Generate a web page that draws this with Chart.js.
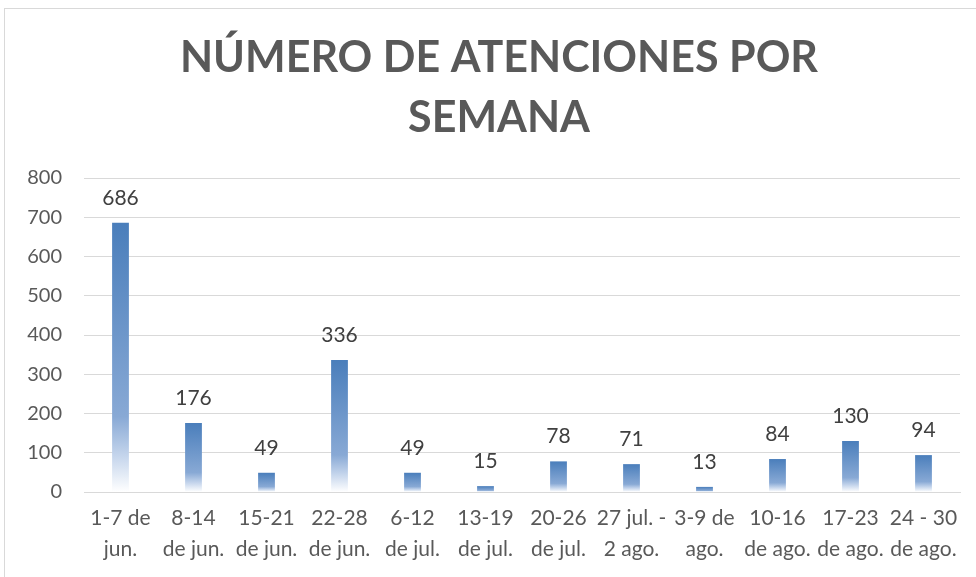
<!DOCTYPE html>
<html><head><meta charset="utf-8">
<script src="https://cdn.jsdelivr.net/npm/chart.js@4"></script>
<style>
html,body{margin:0;padding:0;background:#fff;}
#wrap{position:relative;width:976px;height:577px;}
#frame{position:absolute;left:4px;top:8px;right:0;bottom:0;border-left:1px solid #d9d9d9;border-top:1px solid #d9d9d9;pointer-events:none;}
</style></head>
<body><div id="wrap"><canvas id="c" width="976" height="577"></canvas><div id="frame"></div></div>
<script>
const categories = [["1-7 de","jun."],["8-14","de jun."],["15-21","de jun."],["22-28","de jun."],["6-12","de jul."],["13-19","de jul."],["20-26","de jul."],["27 jul. -","2 ago."],["3-9 de","ago."],["10-16","de ago."],["17-23","de ago."],["24 - 30","de ago."]];
const atenciones = [686,176,49,336,49,15,78,71,13,84,130,94];
const titleLines = ["NÚMERO DE ATENCIONES POR","SEMANA"];
const FONT = "Lato, 'Open Sans', sans-serif";

function barGradient(ctx){
  const chart = ctx.chart;
  const ys = chart.scales && chart.scales.y;
  if(!ys || ctx.type !== 'data') return '#4f81bd';
  const v = ctx.raw;
  const top = ys.getPixelForValue(v), base = ys.getPixelForValue(0);
  if (!isFinite(top) || !isFinite(base) || Math.abs(base-top) < 1) return '#4f81bd';
  const g = chart.ctx.createLinearGradient(0, top, 0, base);
  g.addColorStop(0, '#4a7ebb');
  g.addColorStop(0.72, '#88a9d5');
  g.addColorStop(0.86, '#c2d3eb');
  g.addColorStop(1, '#ffffff');
  return g;
}

const labelPlugin = {
  id:'valueLabels',
  afterDatasetsDraw(chart){
    const c = chart.ctx;
    const meta = chart.getDatasetMeta(0);
    c.save();
    c.font = "21px " + FONT;
    c.fillStyle = '#404040';
    c.textAlign = 'center';
    c.textBaseline = 'middle';
    meta.data.forEach((el,i)=>{
      c.fillText(String(atenciones[i]), el.x, el.y - 25);
    });
    c.restore();
  }
};

const titlePlugin = {
  id:'centeredTitle',
  afterDraw(chart){
    const c = chart.ctx;
    c.save();
    c.font = "bold 43px " + FONT;
    c.fillStyle = '#595959';
    c.textAlign = 'center';
    c.textBaseline = 'middle';
    titleLines.forEach((t,i)=> c.fillText(t, 499, 58 + i*60));
    c.restore();
  }
};

new Chart(document.getElementById('c'), {
  type:'bar',
  data:{ labels:categories, datasets:[{ data:atenciones, backgroundColor:barGradient, borderWidth:0, barPercentage:0.5, categoryPercentage:0.46 }]},
  options:{
    responsive:false, animation:false,
    layout:{padding:{left:6,right:16,top:178,bottom:2}},
    plugins:{ legend:{display:false}, tooltip:{enabled:false}, title:{display:false} },
    scales:{
      x:{ grid:{display:false, drawTicks:false}, border:{color:'#d9d9d9', width:1},
          ticks:{color:'#595959', font:{family:FONT, size:21, lineHeight:1.5}, maxRotation:0, autoSkip:false, padding:10}},
      y:{ min:0, max:800, ticks:{stepSize:100, color:'#595959', font:{family:FONT, size:20}, padding:22},
          afterFit(scale){ scale.width = 78; },
          grid:{color:'#d9d9d9', drawTicks:false}, border:{display:false}}
    }
  },
  plugins:[labelPlugin, titlePlugin]
});
</script></body></html>
